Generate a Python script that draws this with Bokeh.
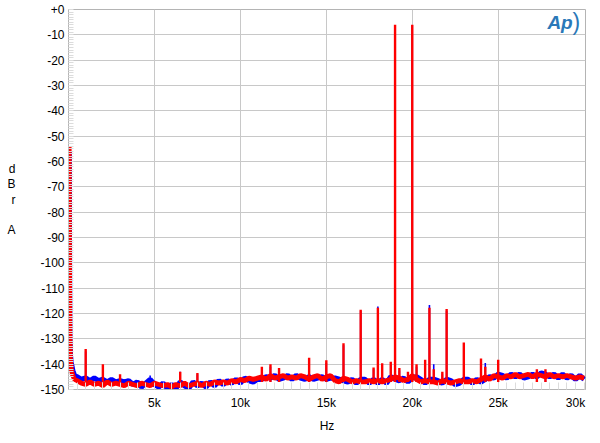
from bokeh.plotting import figure
from bokeh.models import Range1d, FixedTicker, Label, ColumnDataSource
from bokeh.embed import file_html
from bokeh.resources import INLINE

# ---- data ----
lf_freq = [40, 60, 80, 110, 160, 250, 350]
lf_red = [-54, -100, -128, -138, -142, -144.5, -146]
lf_blue = [-56, -102, -130, -136.5, -139.5, -142.5, -144.5]

grid_freq = list(range(500, 30001, 250))
red_floor = [
    -146.5, -147.5, -148, -147, -148, -147.5, -148.5, -147, -148, -147.5, -148,
    -148.5, -147.5, -148, -148.5, -147.5, -148, -148.5, -147.5,
    -148, -148.5, -148, -149, -148, -148.5, -147.5, -148.5,
    -148, -147.5, -148.5, -147.5, -148, -147, -147.5, -147,
    -147.5, -146.5, -147, -146, -146.5, -145.5, -146, -145.5,
    -145, -146, -144.5, -145.5, -145, -144.5, -145.5, -145,
    -145.5, -144.5, -145, -146, -145, -144.5, -146, -145,
    -144.5, -146.5, -147, -145.5, -146, -147, -146.5, -147,
    -147, -146.5, -147, -146.5, -147, -146.5, -146, -145,
    -145.5, -146.5, -146, -144.5, -146, -147, -146.5, -147,
    -147, -147.5, -146.5, -147, -147.5, -147, -146.5, -147,
    -147, -146.5, -147, -146, -145, -146, -144.5, -145,
    -145.5, -144.5, -145, -144, -145, -144.5, -144, -145,
    -144, -144.5, -145, -144, -145, -144.5, -145, -144.5,
    -145, -145.5, -145, -145.5,
]
blue_floor = [
    -145, -146, -145.5, -146.5, -145.5, -146.5, -146, -147, -146, -147, -146.5,
    -147, -146.5, -148, -147, -149, -147.5, -146, -148,
    -149, -147.5, -149.5, -148, -149.5, -147, -148.5, -149.5,
    -147, -148.5, -147.5, -149, -147, -148.5, -146.5, -148,
    -146.5, -147.5, -146, -147.5, -145.5, -146.5, -147, -146,
    -146, -145, -145.5, -144.5, -146, -145.5, -144.5, -146,
    -144.5, -145.5, -146, -145, -146, -145.5, -145, -146,
    -145.5, -145.5, -146, -146.5, -147, -146, -147.5, -146,
    -146, -147.5, -146, -147.5, -146, -147.5, -145, -146,
    -146.5, -145.5, -147, -145.5, -145, -146, -147.5, -146,
    -146, -146.5, -147.5, -146, -146.5, -148, -147.5, -146,
    -146, -147.5, -146, -147, -146, -145, -145.5, -144,
    -144.5, -145.5, -144, -145, -144, -145.5, -145, -144,
    -145, -143.5, -144, -145, -144, -145.5, -144, -145.5,
    -144.5, -146, -144.5, -146,
]

spike_freq = [1000, 2000, 3000, 4750, 6500, 7500, 11250, 11750, 12250, 14000, 15000,
              16000, 17000, 17750, 18000, 18250, 18750, 19000, 19250, 19750,
              20000, 20250, 20750, 21000, 21250, 21750, 22000, 23000, 24000,
              24250, 25000, 27250, 27750]
red_spike = [-134, -140, -144, -147, -143, -143.5, -141, -140, -141.5, -137.5, -138.5,
             -131.7, -118.5, -141.3, -117.7, -139.6, -139, -6, -141.5, -143,
             -6, -140, -138.3, -117.7, -142, -143, -118.2, -131.4, -137.8,
             -141, -138.3, -142, -142]
blue_spike = [-135, -141, -145, -144.5, -143, -144, -142, -141, -142, -138.5, -139.5,
              -132.5, -119, -142, -117.2, -140.5, -140, -6.2, -142.5, -144,
              -6.2, -141, -139, -116.6, -140, -144, -119, -132.5, -138.5,
              -139.5, -139, -143, -143]
spike_base = [-147] * len(spike_freq)

x_ticks = [5000, 10000, 15000, 20000, 25000, 29500]
x_tick_labels = ["5k", "10k", "15k", "20k", "25k", "30k"]
x_grid = [5000, 10000, 15000, 20000, 25000]
y_ticks = list(range(-150, 1, 10))
y_tick_labels = ["+0" if t == 0 else str(t) for t in y_ticks]

FONT = "Liberation Sans"

p = figure(width=592, height=435, output_backend="svg", toolbar_location=None,
           x_range=Range1d(0, 30080), y_range=Range1d(-150, 0),
           min_border_left=68, min_border_right=7, min_border_top=9,
           min_border_bottom=40)
p.background_fill_color = "white"
p.border_fill_color = "white"
p.outline_line_color = "#b4b4b4"
p.outline_line_width = 1

p.xaxis.ticker = FixedTicker(ticks=x_ticks, minor_ticks=list(range(500, 30001, 500)))
p.xaxis.major_label_overrides = {t: l for t, l in zip(x_ticks, x_tick_labels)}
p.yaxis.ticker = FixedTicker(ticks=y_ticks, minor_ticks=list(range(-150, 1, 1)))
p.yaxis.major_label_overrides = {t: l for t, l in zip(y_ticks, y_tick_labels)}
p.xgrid.ticker = FixedTicker(ticks=x_grid)
p.ygrid.ticker = FixedTicker(ticks=y_ticks)
p.grid.grid_line_color = "#c8c8c8"
p.grid.grid_line_width = 1

for ax in (p.xaxis[0], p.yaxis[0]):
    ax.axis_line_color = "#b4b4b4"
    ax.major_tick_in = 0
    ax.major_tick_out = 0
    ax.minor_tick_out = 0
    ax.minor_tick_line_color = "#dcdcdc"
    ax.major_label_text_font = FONT
    ax.major_label_text_font_size = "12px"
    ax.major_label_text_color = "black"
    ax.axis_label_text_font = FONT
    ax.axis_label_text_font_size = "12px"
    ax.axis_label_text_font_style = "normal"
    ax.axis_label_text_color = "black"
p.xaxis.minor_tick_in = 7
p.yaxis.minor_tick_in = 5
p.xaxis.major_label_standoff = 6
p.yaxis.major_label_standoff = 4
p.xaxis.axis_label = "Hz"
p.xaxis.axis_label_standoff = 6
p.yaxis.axis_label = "d\nB\nr\n\nA"
p.yaxis.axis_label_orientation = "horizontal"
p.yaxis.axis_label_standoff = 22
p.yaxis.axis_label_text_line_height = 1.1

freq = lf_freq + grid_freq
src = ColumnDataSource(dict(f=freq, red=lf_red + red_floor, blue=lf_blue + blue_floor))
ssrc = ColumnDataSource(dict(f=spike_freq, base=spike_base, red=red_spike, blue=blue_spike))

p.line("f", "blue", source=src, line_color="#0000ff", line_width=5.2)
p.segment(x0="f", y0="base", x1="f", y1="blue", source=ssrc, line_color="#0000ff", line_width=1.6)
p.line("f", "red", source=src, line_color="#ff0000", line_width=4.8)
p.segment(x0="f", y0="base", x1="f", y1="red", source=ssrc, line_color="#ff0000", line_width=2.4)

# Ap logo
p.add_layout(Label(x=28600, y=-5.3, text="Ap", text_font=FONT,
                   text_font_size="19px", text_font_style="bold italic",
                   text_align="center", text_baseline="middle", text_color="#2a78b8"))
p.add_layout(Label(x=29550, y=-5.0, text=")", text_font=FONT,
                   text_font_size="23px", text_align="center",
                   text_baseline="middle", text_color="#2a78b8"))

open("out.html", "w").write(file_html(p, INLINE))
